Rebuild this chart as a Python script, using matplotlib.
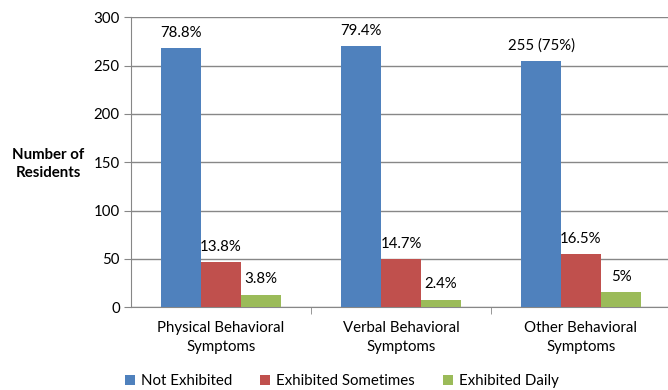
import numpy as np
import matplotlib.pyplot as plt

plt.rcParams['font.family'] = ['Lato', 'DejaVu Sans']

categories = ['Physical Behavioral\nSymptoms', 'Verbal Behavioral\nSymptoms', 'Other Behavioral\nSymptoms']
series = ['Not Exhibited', 'Exhibited Sometimes', 'Exhibited Daily']
not_exhibited = [268, 270, 255]
sometimes = [47, 50, 55]
daily = [13, 8, 16]
labels_not = ['78.8%', '79.4%', '255 (75%)']
labels_some = ['13.8%', '14.7%', '16.5%']
labels_daily = ['3.8%', '2.4%', '5%']
colors = ['#4F81BD', '#C0504D', '#9BBB59']

fig = plt.figure(figsize=(6.68, 3.9), dpi=100)
ax = fig.add_axes([131/668, 82.7/390, 540/668, 290/390])

x = np.arange(len(categories))
w = 2/9
data = [not_exhibited, sometimes, daily]
labs = [labels_not, labels_some, labels_daily]
for i in range(3):
    bars = ax.bar(x + (i-1)*w, data[i], w, color=colors[i], label=series[i], zorder=3)
    for b, t in zip(bars, labs[i]):
        ax.annotate(t, (b.get_x() + b.get_width()/2, b.get_height()), xytext=(0, 11),
                    textcoords='offset points', ha='center', va='center', fontsize=10.8)

ax.set_xlim(-0.5, 2.5)
ax.set_ylim(0, 300)
ax.set_yticks(range(0, 301, 50))
ax.grid(axis='y', color='#878787', linewidth=1, zorder=0)
ax.set_xticks(x)
ax.set_xticklabels(categories, fontsize=10.8, linespacing=1.45)
ax.tick_params(axis='x', length=0, pad=10)
ax.set_xticks([0.5, 1.5], minor=True)
ax.tick_params(axis='x', which='minor', length=5, color='#878787')
ax.tick_params(axis='y', labelsize=10.8, length=5, color='#878787', pad=3)
for s in ['top', 'right']:
    ax.spines[s].set_visible(False)
for s in ['left', 'bottom']:
    ax.spines[s].set_color('#878787')

fig.text(48/668, 1 - 164/390, 'Number of\nResidents', ha='center', va='center',
         fontsize=10.8, fontweight='bold', linespacing=1.4)

fig.legend(loc='center', bbox_to_anchor=(342/668, 1 - 381/390), ncol=3, frameon=False,
           fontsize=10.8, handlelength=0.65, handleheight=0.65, columnspacing=1.9, handletextpad=0.4)

plt.savefig('out.png', dpi=100)
